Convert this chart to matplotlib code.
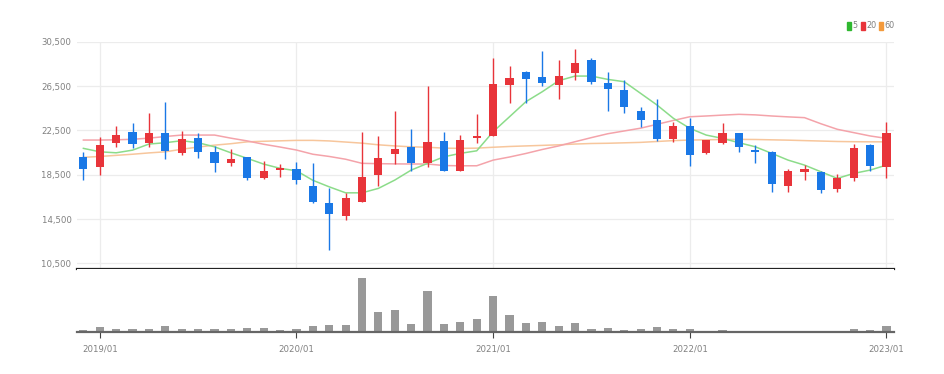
import matplotlib
matplotlib.use("Agg")
import matplotlib.pyplot as plt
import numpy as np

plt.rcParams['font.family'] = ['DejaVu Sans']
plt.rcParams['font.stretch'] = 'condensed'

# monthly candles 2018/12 .. 2023/01
months = [f"{y}/{m:02d}" for y in range(2018, 2024) for m in range(1, 13)][11:61]

open_ = [20070, 19220, 21390, 22380, 21330, 22230, 20430, 21780, 20570, 19580,
         20070, 18170, 18920, 19010, 17500, 15920, 14800, 16010, 18470, 20370,
         20970, 19580, 21570, 18860, 21780, 22020, 26590, 27790, 27340, 26590,
         27700, 28850, 26750, 26140, 24270, 23430, 21690, 22890, 20430, 21330,
         22230, 20720, 20570, 17500, 18770, 18770, 17180, 18170, 21180, 19220]
close = [18980, 21180, 22080, 21270, 22230, 20660, 21690, 20520, 19580, 19890,
         18170, 18860, 19080, 18020, 16000, 14920, 16420, 18260, 19980, 20820,
         19530, 21480, 18860, 21630, 21990, 26650, 27200, 27130, 26750, 27400,
         28600, 26890, 26200, 24630, 23430, 21690, 22890, 20280, 21630, 22290,
         20970, 20570, 17630, 18860, 18980, 17120, 18170, 20910, 19280, 22230]
high = [20570, 21930, 22890, 23190, 24090, 25030, 22470, 22290, 21110, 20790,
        20100, 19760, 19440, 19670, 19530, 17320, 16820, 22380, 21990, 24270,
        22590, 26500, 22380, 22080, 23950, 29060, 28310, 27850, 29660, 28850,
        29840, 29000, 27790, 27040, 24580, 25300, 23280, 23590, 21650, 23140,
        22290, 21180, 20650, 18990, 19370, 18860, 18560, 21270, 21270, 23280]
low = [18020, 18470, 21020, 20880, 21020, 19890, 20280, 19980, 18770, 19280,
       18020, 18080, 18320, 17630, 15920, 11700, 14410, 16000, 17500, 19460,
       18860, 19170, 18830, 18830, 21390, 22000, 24940, 25000, 26500, 25300,
       27040, 26680, 24270, 24090, 22780, 21570, 21480, 19280, 20400, 21270,
       20570, 19580, 16960, 16960, 18020, 16870, 16960, 17930, 18860, 18170]
volume = [17, 50, 27, 27, 27, 60, 33, 27, 27, 27, 43, 43, 17, 27, 60, 70, 70,
          543, 197, 223, 80, 410, 80, 97, 130, 360, 173, 87, 103, 60, 87, 33,
          43, 17, 33, 50, 27, 33, 10, 17, 10, 10, 10, 10, 10, 3, 3, 27, 17, 63]

ma5 = [20880, 20570, 20480, 20720, 21270, 21390, 21570, 21390, 21020, 20480,
       19980, 19460, 19080, 18860, 18000, 17410, 16870, 16870, 17270, 18020,
       18920, 19530, 20120, 20430, 20660, 22380, 23730, 25090, 25990, 26980,
       27400, 27400, 27100, 26890, 25840, 24790, 23590, 22690, 22080, 21780,
       21390, 21020, 20430, 19820, 19370, 18770, 18170, 18620, 18920, 19370]
ma20 = [21630, 21630, 21650, 21700, 21800, 21950, 22080, 22080, 22080, 21800,
        21550, 21250, 21000, 20730, 20350, 20150, 19900, 19530, 19500, 19480,
        19470, 19470, 19330, 19310, 19310, 19820, 20100, 20420, 20780, 21100,
        21480, 21850, 22200, 22450, 22700, 23050, 23400, 23730, 23800, 23880,
        23950, 23900, 23800, 23720, 23650, 23100, 22600, 22300, 22000, 21780]
ma60 = [20070, 20150, 20250, 20350, 20470, 20570, 20800, 21000, 21170, 21300,
        21470, 21520, 21560, 21600, 21600, 21550, 21450, 21350, 21200, 21100,
        21020, 20980, 20900, 20880, 20900, 20980, 21050, 21100, 21150, 21200,
        21270, 21320, 21340, 21380, 21420, 21500, 21580, 21630, 21650, 21680,
        21690, 21680, 21650, 21620, 21580, 21540, 21500, 21480, 21470, 21470]

yticks = [10500, 14500, 18500, 22500, 26500, 30500]

up_c = '#e8343a'
down_c = '#1a78e6'

x = np.arange(len(months))
o = np.array(open_); c = np.array(close)
colors = [up_c if cc >= oo else down_c for oo, cc in zip(o, c)]

fig = plt.figure(figsize=(9.44, 3.74), dpi=100)
ax = fig.add_axes([77/944, 1-269/374, (894-77)/944, (269-41.7)/374])
axv = fig.add_axes([77/944, 1-332/374, (894-77)/944, (332-269)/374])

year_idx = [i for i, m in enumerate(months) if m.endswith('/01')]

# grid
for yv in yticks:
    ax.axhline(yv, color='#ececec', lw=0.9, zorder=0)
for xi in year_idx:
    ax.axvline(xi, color='#ececec', lw=0.9, zorder=0)

# moving averages
ax.plot(x, ma60, color='#f7c69c', lw=1.1, zorder=1)
ax.plot(x, ma20, color='#f4a3aa', lw=1.1, zorder=1)
ax.plot(x, ma5, color='#8cdc8a', lw=1.1, zorder=1)

# candles
ax.vlines(x, low, high, colors=colors, lw=1.0, zorder=2)
body_lo = np.minimum(o, c)
body_h = np.maximum(np.abs(c - o), 60)
ax.bar(x, body_h, bottom=body_lo, width=0.5, color=colors, zorder=3)

ax.set_xlim(-0.39, 49.46)
ax.set_ylim(10000, 30500)
ax.set_yticks(yticks)
ax.set_yticklabels([f"{v:,}" for v in yticks], fontsize=6.8, color='#808080')
ax.tick_params(axis='y', length=0, pad=4)
ax.tick_params(axis='x', length=0)
ax.set_xticks([])
for s in ['top', 'right', 'left']:
    ax.spines[s].set_visible(False)
ax.spines['bottom'].set_color('#222222')
ax.spines['bottom'].set_linewidth(1.6)

# volume
axv.bar(x, volume, width=0.5, color='#999999', zorder=2)
axv.set_xlim(-0.39, 49.46)
axv.set_ylim(0, 630)
axv.set_yticks([])
axv.set_xticks(year_idx)
axv.set_xticklabels([months[i] for i in year_idx], fontsize=6.8, color='#808080')
axv.tick_params(axis='x', length=4, color='#444444', pad=5)
for s in ['top', 'right', 'left']:
    axv.spines[s].set_visible(False)
axv.spines['bottom'].set_color('#666666')
axv.spines['bottom'].set_linewidth(1.6)

# legend at top right
leg_items = [('5', '#2fb830'), ('20', '#e8343a'), ('60', '#f39a3c')]
lx = 847
for lab, col in leg_items:
    fig.patches.append(plt.Rectangle((lx/944, 1-30/374), 4/944, 8/374,
                                     transform=fig.transFigure, color=col))
    fig.text((lx+5.5)/944, 1-26/374, lab, fontsize=6.5, color='#808080', va='center')
    lx += 5.5 + 4.3*len(lab) + 4

fig.savefig('out.png', dpi=100)
